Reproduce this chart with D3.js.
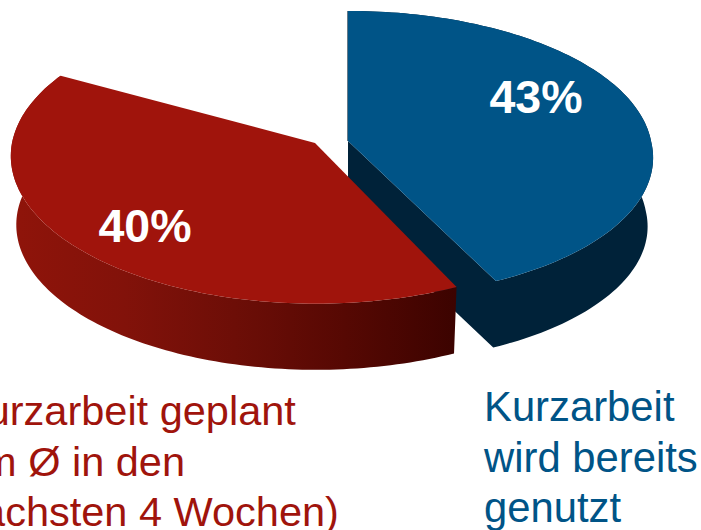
<!DOCTYPE html>
<html>
<head>
<meta charset="utf-8">
<script src="https://cdn.jsdelivr.net/npm/d3@7/dist/d3.min.js"></script>
<style>
html,body{margin:0;padding:0;background:#fff;overflow:hidden}
svg{display:block}
text{font-family:"Liberation Sans",Arial,sans-serif}
</style>
</head>
<body>
<script>
// Data
const categories = ["Kurzarbeit wird bereits genutzt", "Kurzarbeit geplant (im Ø in den nächsten 4 Wochen)", "Rest"];
const values = [43, 40, 17];
const valueLabels = ["43%", "40%"];
const blueLines = ["Kurzarbeit", "wird bereits", "genutzt"];
const redLines = ["Kurzarbeit geplant", "(im Ø in den", "nächsten 4 Wochen)"];

// Layout / style
const W = 701, H = 530;
const apex = [{x:348,y:141},{x:315,y:143}];
const RX = 303, RY = 142, K = 0.0915, DEPTH = 69, LOWER = 0.982;
const ryFactor = [1, 1.028], shear = [8, 1];
const topFill = ["#005487","#a0140c"];
const labelPos = [{x:536,y:113},{x:145,y:242}];

const svg = d3.select("body").append("svg").attr("width",W).attr("height",H);
const defs = svg.append("defs");
const gr = defs.append("linearGradient").attr("id","redSide")
  .attr("gradientUnits","userSpaceOnUse").attr("x1",13).attr("x2",456).attr("y1",0).attr("y2",0);
[[0,"#8f140a"],[0.25,"#82120a"],[0.5,"#6d0e07"],[0.75,"#560803"],[1,"#3c0300"]]
  .forEach(s=>gr.append("stop").attr("offset",s[0]).attr("stop-color",s[1]));
const sideFill = ["#002239","url(#redSide)"];

const pie = d3.pie().sort(null).value(d=>d);
const arcs = pie(values);
const sx = d3.scaleLinear().domain([-1,1]).range([-RX,RX]);
const sy = d3.scaleLinear().domain([-1,1]).range([-RY,RY]);

// perspective projection of a disk point
function proj(a, r, i, lower){
  const X = r*Math.sin(a), Y = -r*Math.cos(a);
  const s = 1/(1-K*Y), f = lower ? LOWER : 1;
  return [apex[i].x + (sx(X)*s + shear[i]*Math.max(Y,0))*f,
          apex[i].y + sy(Y)*ryFactor[i]*s*f + (lower?DEPTH:0)];
}
const line = d3.line();
function rim(d,i,lower){
  return d3.range(0,121).map(t=>proj(d.startAngle+(d.endAngle-d.startAngle)*t/120,1,i,lower));
}

const g = svg.append("g");
arcs.slice(0,2).forEach((d,i)=>{
  const up = rim(d,i,false), lo = rim(d,i,true);
  const c=[apex[i].x,apex[i].y], cl=[apex[i].x,apex[i].y+DEPTH];
  // outer wall, and for the blue slice also the cut face toward the viewer, in one path
  let wall = line(up.concat(lo.slice().reverse()))+"Z";
  if(i===0) wall += line([c,up[120],lo[120],cl])+"Z";
  g.append("path").attr("d",wall).attr("fill",sideFill[i]);
  if(i===0) g.append("path").attr("d",line([up[0],c])).attr("fill","none")
    .attr("stroke",sideFill[i]).attr("stroke-width",1.2);
  // top face
  g.append("path").attr("d",line([c].concat(up))+"Z").attr("fill",topFill[i]);
});

// value labels
svg.selectAll("text.v").data(valueLabels).join("text").attr("class","v")
  .attr("x",(d,i)=>labelPos[i].x).attr("y",(d,i)=>labelPos[i].y)
  .attr("text-anchor","middle").attr("font-size",46.5).attr("font-weight","bold")
  .attr("fill","#fff").text(d=>d);

// category labels
svg.selectAll("text.b").data(blueLines).join("text").attr("class","b")
  .attr("x",484).attr("y",(d,i)=>421+i*50.5)
  .attr("font-size",41.8).attr("fill",topFill[0]).text(d=>d);
svg.selectAll("text.r").data(redLines).join("text").attr("class","r")
  .attr("x",-41).attr("y",(d,i)=>425+i*50.5)
  .attr("font-size",41.5).attr("fill",topFill[1]).text(d=>d);
</script>
</body>
</html>
